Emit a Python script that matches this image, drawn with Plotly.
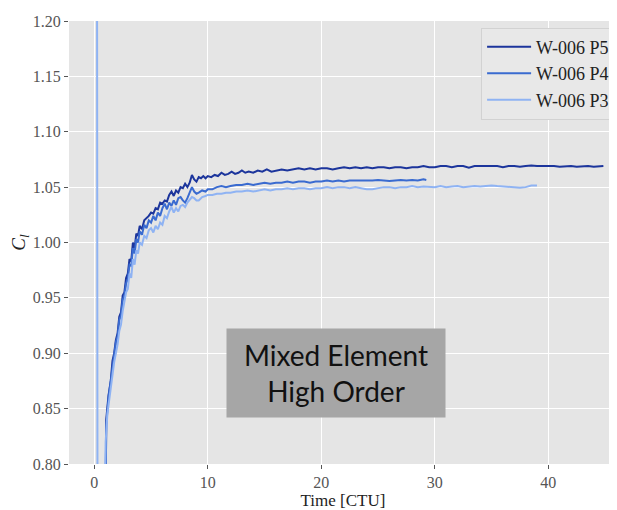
import plotly.graph_objects as go

# ---------------- data ----------------
p5_t = [0.95, 1.05, 1.25, 1.45, 1.6, 1.75, 1.9, 2.05, 2.2, 2.35, 2.5, 2.65, 2.8, 2.95, 3.1, 3.25, 3.4, 3.55,
        3.7, 3.85, 4.0, 4.2, 4.4, 4.6, 4.8, 5.0, 5.2, 5.4, 5.6, 5.8, 6.0, 6.2, 6.4, 6.6, 6.8, 7.0, 7.2, 7.4,
        7.6, 7.8, 8.0, 8.2, 8.4, 8.6, 8.8, 9.0, 9.2, 9.4, 9.6, 9.8, 10.0, 10.3, 10.6, 10.9, 11.2, 11.5, 11.8,
        12.1, 12.4, 12.7, 13.0, 13.3, 13.6, 14.0, 14.4, 14.8, 15.2, 15.6, 16.0, 16.5, 17.0, 17.5, 18.0, 18.5,
        19.0, 19.5, 20.0, 20.5, 21.0, 21.5, 22.0, 22.5, 23.0, 23.5, 24.0, 24.5, 25.0, 25.5, 26.0, 26.5, 27.0,
        27.5, 28.0, 28.5, 29.0, 29.5, 30.0, 30.5, 31.0, 31.5, 32.0, 32.5, 33.0, 33.5, 34.0, 34.5, 35.0, 35.5,
        36.0, 36.5, 37.0, 37.5, 38.0, 38.5, 39.0, 39.5, 40.0, 40.5, 41.0, 41.5, 42.0, 42.5, 43.0, 43.5, 44.0,
        44.5, 44.85]
p5_cl = [0.70, 0.84, 0.862, 0.875, 0.893, 0.90, 0.912, 0.918, 0.933, 0.937, 0.952, 0.955, 0.968, 0.972, 0.985,
         0.983, 1.000, 0.995, 1.008, 1.006, 1.015, 1.012, 1.020, 1.022, 1.024, 1.027, 1.026, 1.031, 1.030, 1.036,
         1.035, 1.038, 1.037, 1.043, 1.046, 1.042, 1.047, 1.045, 1.050, 1.049, 1.053, 1.050, 1.054, 1.061, 1.057,
         1.055, 1.059, 1.058, 1.060, 1.058, 1.060, 1.059, 1.061, 1.060, 1.063, 1.061, 1.062, 1.064, 1.062, 1.063,
         1.065, 1.063, 1.064, 1.063, 1.065, 1.064, 1.066, 1.064, 1.065, 1.066, 1.065, 1.066, 1.067, 1.066, 1.067,
         1.066, 1.067, 1.067, 1.066, 1.067, 1.068, 1.067, 1.068, 1.067, 1.068, 1.067, 1.068, 1.068, 1.067, 1.068,
         1.068, 1.067, 1.068, 1.068, 1.069, 1.068, 1.068, 1.069, 1.069, 1.068, 1.069, 1.069, 1.0675, 1.069, 1.069,
         1.069, 1.0695, 1.069, 1.068, 1.069, 1.069, 1.0685, 1.069, 1.0695, 1.069, 1.069, 1.0695, 1.069, 1.0685,
         1.069, 1.069, 1.0685, 1.069, 1.069, 1.0685, 1.069, 1.069]

p4_t = [0.95, 1.05, 1.25, 1.45, 1.6, 1.75, 1.9, 2.05, 2.2, 2.35, 2.5, 2.65, 2.8, 2.95, 3.1, 3.25, 3.4, 3.55,
        3.7, 3.85, 4.0, 4.2, 4.4, 4.6, 4.8, 5.0, 5.2, 5.4, 5.6, 5.8, 6.0, 6.2, 6.4, 6.6, 6.8, 7.0, 7.2, 7.4,
        7.6, 7.8, 8.0, 8.2, 8.4, 8.6, 8.8, 9.0, 9.2, 9.5, 9.8, 10.0, 10.4, 10.8, 11.2, 11.6, 12.0, 12.5, 13.0,
        13.5, 14.0, 14.5, 15.0, 15.5, 16.0, 16.5, 17.0, 17.5, 18.0, 18.5, 19.0, 19.5, 20.0, 20.5, 21.0, 21.5,
        22.0, 22.5, 23.0, 23.5, 24.0, 24.5, 25.0, 25.5, 26.0, 26.5, 27.0, 27.5, 28.0, 28.5, 29.0, 29.25]
p4_cl = [0.72, 0.835, 0.86, 0.874, 0.888, 0.897, 0.91, 0.915, 0.93, 0.934, 0.948, 0.952, 0.963, 0.967, 0.980,
         0.979, 0.995, 0.990, 1.003, 1.000, 1.010, 1.007, 1.016, 1.013, 1.020, 1.018, 1.024, 1.020, 1.027, 1.024,
         1.031, 1.035, 1.030, 1.036, 1.033, 1.038, 1.034, 1.040, 1.041, 1.038, 1.036, 1.040, 1.045, 1.050, 1.046,
         1.044, 1.045, 1.047, 1.046, 1.048, 1.048, 1.050, 1.051, 1.050, 1.051, 1.052, 1.052, 1.053, 1.052, 1.053,
         1.054, 1.053, 1.054, 1.054, 1.055, 1.054, 1.055, 1.055, 1.054, 1.055, 1.055, 1.056, 1.055, 1.056, 1.055,
         1.056, 1.056, 1.0555, 1.056, 1.056, 1.0565, 1.056, 1.0555, 1.056, 1.0565, 1.056, 1.0565, 1.056, 1.057,
         1.0565]

p3_t = [0.22, 0.30, 0.60, 0.90, 1.0, 1.15, 1.3, 1.45, 1.6, 1.75, 1.9, 2.05, 2.2, 2.35, 2.5, 2.65, 2.8, 2.95,
        3.1, 3.25, 3.4, 3.55, 3.7, 3.85, 4.0, 4.2, 4.4, 4.6, 4.8, 5.0, 5.2, 5.4, 5.6, 5.8, 6.0, 6.2, 6.4, 6.6,
        6.8, 7.0, 7.2, 7.4, 7.6, 7.8, 8.0, 8.2, 8.4, 8.6, 8.8, 9.0, 9.2, 9.5, 9.8, 10.0, 10.4, 10.8, 11.2,
        11.6, 12.0, 12.5, 13.0, 13.5, 14.0, 14.5, 15.0, 15.5, 16.0, 16.5, 17.0, 17.5, 18.0, 18.5, 19.0, 19.5,
        20.0, 20.5, 21.0, 21.5, 22.0, 22.5, 23.0, 23.5, 24.0, 24.5, 25.0, 25.5, 26.0, 26.5, 27.0, 27.5, 28.0,
        28.5, 29.0, 29.5, 30.0, 30.5, 31.0, 31.5, 32.0, 32.5, 33.0, 33.5, 34.0, 34.5, 35.0, 35.5, 36.0, 36.5,
        37.0, 37.5, 38.0, 38.5, 39.0]
p3_cl = [1.5, 0.5, 0.55, 0.78, 0.82, 0.845, 0.858, 0.868, 0.880, 0.892, 0.900, 0.908, 0.920, 0.926, 0.938,
         0.945, 0.955, 0.958, 0.972, 0.968, 0.985, 0.980, 0.993, 0.990, 1.000, 0.998, 1.006, 1.004, 1.011, 1.013,
         1.009, 1.015, 1.012, 1.018, 1.016, 1.024, 1.022, 1.028, 1.032, 1.027, 1.031, 1.028, 1.033, 1.034, 1.032,
         1.036, 1.039, 1.041, 1.040, 1.038, 1.038, 1.041, 1.042, 1.043, 1.043, 1.044, 1.044, 1.045, 1.045, 1.046,
         1.046, 1.047, 1.046, 1.047, 1.048, 1.047, 1.048, 1.048, 1.049, 1.048, 1.049, 1.049, 1.048, 1.049, 1.049,
         1.050, 1.049, 1.050, 1.050, 1.049, 1.050, 1.049, 1.048, 1.048, 1.049, 1.050, 1.050, 1.049, 1.050, 1.050,
         1.051, 1.050, 1.0505, 1.050, 1.050, 1.051, 1.050, 1.0505, 1.051, 1.050, 1.0505, 1.051, 1.0505, 1.051,
         1.0515, 1.051, 1.0505, 1.050, 1.0495, 1.0495, 1.050, 1.0515, 1.0515]

series_names = ["W-006 P5", "W-006 P4", "W-006 P3"]
series_colors = ["#1c359c", "#3a6bd0", "#8fb3f3"]

y_ticks = [0.80, 0.85, 0.90, 0.95, 1.00, 1.05, 1.10, 1.15, 1.20]
x_ticks = [0, 10, 20, 30, 40]

# ---------------- figure ----------------
fig = go.Figure()
for name, t, cl, col in zip(series_names, [p5_t, p4_t, p3_t], [p5_cl, p4_cl, p3_cl], series_colors):
    fig.add_trace(go.Scatter(x=t, y=cl, mode="lines", name=name,
                             line=dict(color=col, width=2)))

serif = "Liberation Serif"

# the page body has an 8px margin, so the figure is sized to fit the window
fig.update_layout(
    width=609, height=502,
    margin=dict(l=61, r=0, t=13, b=46),
    paper_bgcolor="white",
    plot_bgcolor="#e5e5e5",
    font=dict(family=serif, size=16, color="#555555"),
    showlegend=True,
    legend=dict(x=0.752, y=0.985, xanchor="left", yanchor="top",
                bgcolor="#e8e8e8", bordercolor="#d2d2d2", borderwidth=1,
                font=dict(family=serif, size=18, color="#222222"),
                itemwidth=44, tracegroupgap=0),
    xaxis=dict(range=[-2.23, 46.05], tickvals=x_ticks, showgrid=True, gridcolor="white", gridwidth=1,
               zeroline=False, ticks="outside", ticklen=4, tickcolor="#555555",
               tickfont=dict(family=serif, size=16, color="#555555"),
               title=dict(text="Time [CTU]", font=dict(family=serif, size=17, color="#222222"), standoff=4)),
    yaxis=dict(range=[0.80, 1.20], tickvals=y_ticks, tickformat=".2f", showgrid=True, gridcolor="white",
               gridwidth=1, zeroline=False, ticks="outside", ticklen=4, tickcolor="#555555",
               tickfont=dict(family=serif, size=16, color="#555555"),
               title=dict(text="<i>C<sub>l</sub></i>", font=dict(family=serif, size=19, color="#222222"),
                          standoff=8)),
    annotations=[dict(xref="paper", yref="paper", x=0.487, y=0.206, xanchor="center", yanchor="middle",
                      text="Mixed Element<br>High Order", showarrow=False,
                      font=dict(family="Lato, Open Sans, sans-serif", size=28, color="#111111"),
                      bgcolor="#a6a6a6", width=210, height=80, borderpad=4, align="center")],
)

fig.write_html("out.html")
